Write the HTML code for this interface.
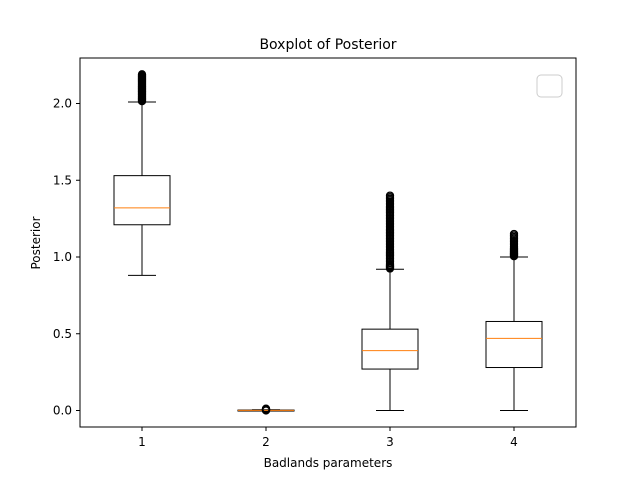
<!DOCTYPE html>
<html><head><meta charset="utf-8"><style>
body{margin:0;background:#fff;}
svg{font-family:"DejaVu Sans","Liberation Sans",sans-serif;}
</style></head><body>
<svg id="chart" width="640" height="480" viewBox="0 0 640 480" xmlns="http://www.w3.org/2000/svg">
<rect width="640" height="480" fill="#fff"/>
<text x="328" y="49" text-anchor="middle" font-size="14">Boxplot of Posterior</text>
<text x="328" y="467" text-anchor="middle" font-size="12">Badlands parameters</text>
<text transform="translate(40,243) rotate(-90)" text-anchor="middle" font-size="12">Posterior</text>
<g id="plot"></g>
<rect x="80" y="58" width="496" height="369" fill="none" stroke="#000" stroke-width="1"/>
<rect x="537" y="75" width="25" height="22" rx="4" fill="#fff" stroke="#ccc"/>
</svg>
<script>
const categories=["1","2","3","4"];
const q1s=[1.21,0.0,0.27,0.28];
const q3s=[1.53,0.003,0.53,0.58];
const medians=[1.32,0.001,0.39,0.47];
const whiskLo=[0.88,0.0,0.0,0.0];
const whiskHi=[2.01,0.005,0.92,1.0];
const fliers=[
 [2.015,2.02,2.025,2.03,2.035,2.04,2.045,2.05,2.055,2.06,2.065,2.07,2.075,2.08,2.085,2.09,2.095,2.10,2.105,2.11,2.115,2.12,2.125,2.13,2.135,2.14,2.145,2.15,2.155,2.16,2.165,2.17,2.175,2.18,2.185,2.19],
 [0.0,0.002,0.004,0.006,0.008,0.01,0.012],
 [0.925,0.93,0.935,0.94,0.945,0.95,0.96,0.97,0.98,0.99,1.0,1.01,1.02,1.03,1.04,1.05,1.06,1.07,1.08,1.09,1.10,1.11,1.12,1.13,1.14,1.15,1.16,1.17,1.18,1.19,1.20,1.21,1.22,1.23,1.24,1.25,1.26,1.27,1.28,1.29,1.30,1.31,1.32,1.33,1.34,1.35,1.36,1.37,1.38,1.39,1.40],
 [1.005,1.01,1.015,1.02,1.025,1.03,1.035,1.04,1.045,1.05,1.055,1.06,1.07,1.08,1.09,1.10,1.11,1.12,1.13,1.14,1.15]
];
const yTicks=[0,0.5,1.0,1.5,2.0];
const yTickLabels=["0.0","0.5","1.0","1.5","2.0"];
const X=i=>80+(i+0.5)*124;
const Y=v=>410.5-v*153.5;
const ns="http://www.w3.org/2000/svg";
const g=document.getElementById('plot');
function mk(t,a){const e=document.createElementNS(ns,t);for(const k in a)e.setAttribute(k,a[k]);g.appendChild(e);return e;}
yTicks.forEach((v,i)=>{
 const t=mk('line',{x1:76,x2:80,y1:Y(v),y2:Y(v),stroke:'#000'});
 
 
 const l=mk('text',{x:72,y:Y(v)+4,'text-anchor':'end','font-size':12,fill:'#000'});
 l.textContent=yTickLabels[i];
 
 
});
categories.forEach((c,i)=>{
 const x=X(i),hw=28;
 const t=mk('line',{x1:x,x2:x,y1:427,y2:431,stroke:'#000'});
 
 
 const l=mk('text',{x:x,y:446,'text-anchor':'middle','font-size':12,fill:'#000'});
 l.textContent=c;
 
 
 const w1=mk('line',{x1:x,x2:x,y1:Y(q1s[i]),y2:Y(whiskLo[i]),stroke:'#000'});
 
 
 const w2=mk('line',{x1:x,x2:x,y1:Y(q3s[i]),y2:Y(whiskHi[i]),stroke:'#000'});
 
 
 [whiskLo[i],whiskHi[i]].forEach(v=>{
  const cap=mk('line',{x1:x-14,x2:x+14,y1:Y(v),y2:Y(v),stroke:'#000'});
  
  
 });
 const b=mk('rect',{x:x-hw,y:Y(q3s[i]),width:hw*2,height:Math.max(1,Y(q1s[i])-Y(q3s[i])),fill:'none',stroke:'#000'});
 
 
 const m=mk('line',{x1:x-hw,x2:x+hw,y1:Y(medians[i]),y2:Y(medians[i]),stroke:'#ff7f0e'});
 
 
 fliers[i].forEach(v=>{
  const f=mk('circle',{cx:x,cy:Y(v),r:3.5,fill:'none',stroke:'#000','stroke-width':1.3});
  
  
 });
});
</script>
</body></html>
